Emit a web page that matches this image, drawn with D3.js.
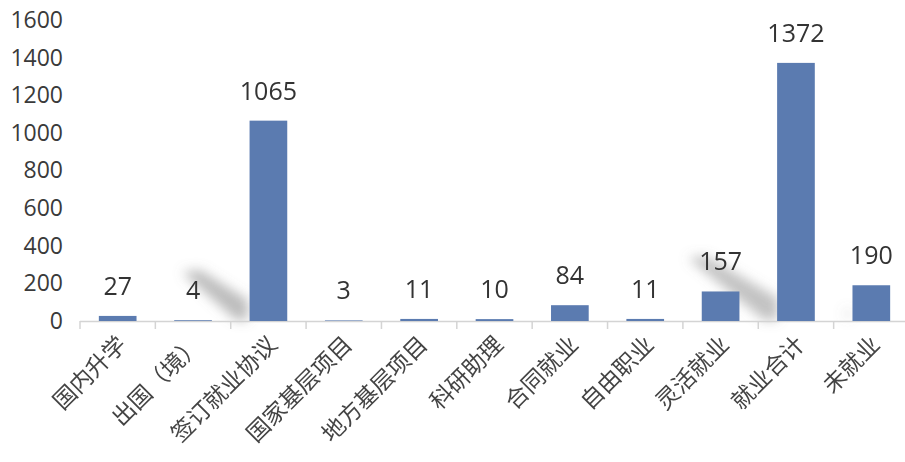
<!DOCTYPE html>
<html><head><meta charset="utf-8">
<script src="https://cdn.jsdelivr.net/npm/d3@7"></script>
<style>body{margin:0;background:#fff;} svg{display:block;}</style>
</head><body>
<svg id="c" width="905" height="462"></svg>
<script>
const categories = ["国内升学","出国（境）","签订就业协议","国家基层项目","地方基层项目","科研助理","合同就业","自由职业","灵活就业","就业合计","未就业"];
const values = [27,4,1065,3,11,10,84,11,157,1372,190];
const yTicks = [0,200,400,600,800,1000,1200,1400,1600];

const svg = d3.select("#c");
const x = d3.scaleBand().domain(categories).range([80, 909]).paddingInner(0.5).paddingOuter(0.25);
const y = d3.scaleLinear().domain([0,1600]).range([321, 20]);

// decorative paper-fold shadows (background artefact)
const defs = svg.append("defs");
defs.append("filter").attr("id","blur").attr("x","-50%").attr("y","-50%").attr("width","200%").attr("height","200%")
  .append("feGaussianBlur").attr("stdDeviation",6);
const sh = svg.append("g").attr("filter","url(#blur)").attr("fill","#7a7a7a");
sh.append("path").attr("d","M182,272 L200,270 L248,300 L248,320 L236,320 Z").attr("opacity",0.5);
sh.append("path").attr("d","M688,258 L706,256 L778,298 L778,320 L764,320 Z").attr("opacity",0.45);
sh.append("path").attr("d","M842,312 L850,306 L852,320 L846,320 Z").attr("opacity",0.15);

// y axis labels
const ya = svg.append("g").attr("transform","translate(63,0)")
  .call(d3.axisLeft(y).tickValues(yTicks).tickFormat(d3.format("d")).tickSize(0).tickPadding(0));
ya.select(".domain").remove();
ya.selectAll("text").attr("font-family","'Open Sans','Noto Sans',sans-serif").attr("font-size",23).attr("fill","#3a3a3a");

// x axis
const xa = svg.append("g").attr("transform","translate(0,321)");
xa.append("line").attr("x1",80).attr("x2",905).attr("y1",0.5).attr("y2",0.5).attr("stroke","#d4d4d4").attr("stroke-width",1.5);
xa.selectAll("line.tk").data(categories).join("line").attr("class","tk")
  .attr("x1",d=>x(d) - (x.step()-x.bandwidth())/2).attr("x2",d=>x(d) - (x.step()-x.bandwidth())/2)
  .attr("y1",0).attr("y2",8).attr("stroke","#d4d4d4").attr("stroke-width",1.5);

// bars
svg.selectAll("rect.bar").data(values).join("rect").attr("class","bar")
  .attr("x",(d,i)=>x(categories[i])).attr("width",x.bandwidth())
  .attr("y",d=>y(d)).attr("height",d=>y(0)-y(d)).attr("fill","#5b7bb0");

// value labels
svg.selectAll("text.val").data(values).join("text").attr("class","val")
  .attr("x",(d,i)=>x(categories[i])+x.bandwidth()/2).attr("y",d=>y(d)-21)
  .attr("text-anchor","middle").attr("font-family","'Open Sans','Noto Sans',sans-serif")
  .attr("font-size",25).attr("fill","#333").text(d=>d);

// category labels
svg.selectAll("text.cat").data(categories).join("text").attr("class","cat")
  .attr("transform",d=>`translate(${x(d)+x.bandwidth()/2+10},${346}) rotate(-45)`)
  .attr("text-anchor","end").attr("font-family","'Noto Sans CJK SC',sans-serif")
  .attr("font-size",23).attr("fill","#444").text(d=>d);
</script>
</body></html>
